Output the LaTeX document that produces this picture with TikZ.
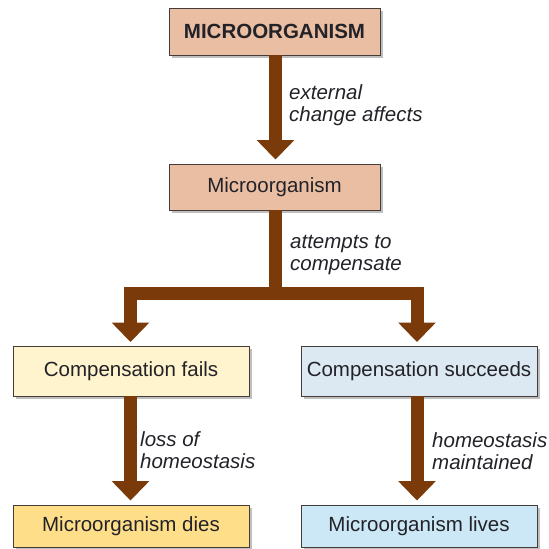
\documentclass[tikz,border=0pt]{standalone}
\usepackage{fontspec}
\setmainfont{Liberation Sans}
\usetikzlibrary{arrows.meta,shadows}
\definecolor{salmon}{RGB}{233,190,162}
\definecolor{failc}{RGB}{255,244,206}
\definecolor{diec}{RGB}{255,222,138}
\definecolor{succc}{RGB}{221,233,242}
\definecolor{livec}{RGB}{204,232,246}
\definecolor{arrc}{RGB}{122,58,10}
\definecolor{txtc}{RGB}{34,34,40}
\definecolor{edgec}{RGB}{70,60,55}
\begin{document}
\begin{tikzpicture}[x=1pt,y=-1pt,
  box/.style={draw=edgec,line width=0.9pt,inner sep=0pt,text=txtc,
    font=\fontsize{20.5}{24}\selectfont,
    drop shadow={shadow xshift=2.5pt,shadow yshift=-2.5pt,opacity=0.25,fill=black}},
  lbl/.style={anchor=west,align=left,inner sep=0pt,text=txtc,
    font=\fontsize{20.5}{22.5}\selectfont\itshape},
  shaft/.style={draw=arrc,line width=13pt,line join=miter},
  arr/.style={shaft,-{Triangle[length=19.5pt,width=36.5pt]},shorten >=4pt}]
\useasboundingbox (0,0) rectangle (549,549);
\node[box,fill=salmon,minimum width=211pt,minimum height=47pt,
  font=\fontsize{20.5}{24}\selectfont\bfseries] (ntop) at (274.5,31.5) {MICROORGANISM};
\node[box,fill=salmon,minimum width=211pt,minimum height=46pt] (nmid) at (274.5,187) {Microorganism};
\node[box,fill=failc,minimum width=236pt,minimum height=49.5pt] (nfail) at (131,371.25) {Compensation fails};
\node[box,fill=succc,minimum width=236pt,minimum height=49.5pt] (nsucc) at (419,371.25) {Compensation succeeds};
\node[box,fill=diec,minimum width=236pt,minimum height=42pt] (ndie) at (131,526) {Microorganism dies};
\node[box,fill=livec,minimum width=236pt,minimum height=42pt] (nlive) at (419,526) {Microorganism lives};
\coordinate (jn) at (275.5,293.3);
\draw[arr] ([xshift=1pt]ntop.south) -- ([xshift=1pt]nmid.north);
\draw[shaft] ([xshift=1pt]nmid.south) -- (jn);
\draw[arr] (jn) -| ([xshift=-0.5pt]nfail.north);
\draw[arr] (jn) -| ([xshift=-2pt]nsucc.north);
\draw[arr] ([xshift=-0.5pt]nfail.south) -- ([xshift=-0.5pt]ndie.north);
\draw[arr] ([xshift=-2pt]nsucc.south) -- ([xshift=-2pt]nlive.north);
\node[lbl] (l1) at (289,105) {external\\change affects};
\node[lbl] (l2) at (290,255) {attempts to\\compensate};
\node[lbl] (l3) at (140,450) {loss of\\homeostasis};
\node[lbl] (l4) at (432,451) {homeostasis\\maintained};
\end{tikzpicture}
\end{document}
